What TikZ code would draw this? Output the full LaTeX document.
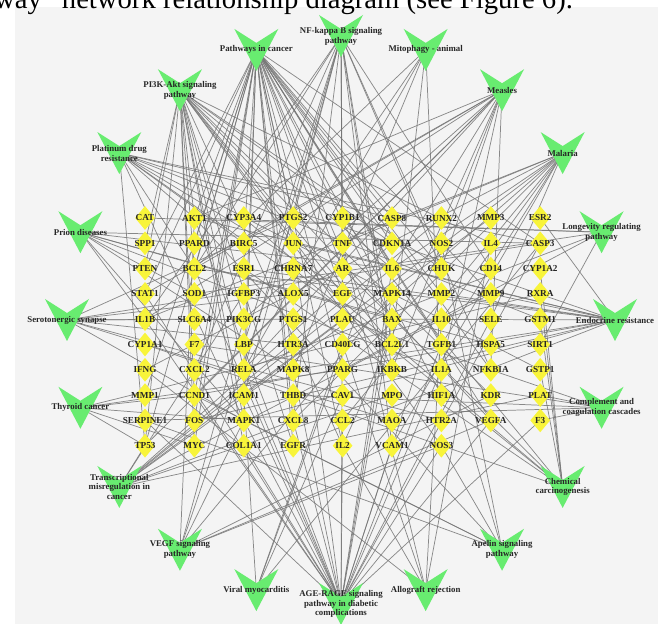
\documentclass[tikz,border=0pt]{standalone}
\usepackage{fontspec}
\setmainfont{Liberation Serif}
\usepackage{tikz}
\usetikzlibrary{positioning,calc}
\usetikzlibrary{shapes.geometric}
\definecolor{GeneYellow}{RGB}{248,244,58}
\definecolor{PathGreen}{RGB}{104,236,112}
\definecolor{EdgeGray}{RGB}{118,118,118}
\definecolor{PanelGray}{RGB}{244,244,244}
\pgfdeclarelayer{panel}
\pgfdeclarelayer{links}
\pgfsetlayers{panel,links,main}
\tikzset{
	gene/.style={diamond,fill=GeneYellow,draw=none,inner sep=0pt,minimum width=15pt,minimum height=18pt},
	genetext/.style={font=\fontsize{6.9}{7}\selectfont\bfseries,text=black!85,inner sep=0pt},
	pathway/.style={font=\fontsize{6.6}{7.4}\selectfont\bfseries,text=black!85,align=center,inner sep=0pt},
	link/.style={draw=EdgeGray,line width=0.55pt,opacity=0.85},
	vee/.pic={\fill[PathGreen] (-22,-21) -- (0,-7) -- (22,-21) -- (0,21) -- cycle;},
}

\begin{document}
\begin{tikzpicture}[x=0.75pt,y=-0.75pt]
	\useasboundingbox (0,0) rectangle (658,624);
	\clip (0,0) rectangle (658,624);
	\begin{pgfonlayer}{panel}
		\fill[PanelGray] (15,7) rectangle (658,624);
	\end{pgfonlayer}
	\node[anchor=base west,inner sep=0pt,font=\fontsize{21.5}{24}\selectfont] (caption) at (-6,9) {way” network relationship diagram (see Figure 6).};
	\foreach \col/\xx in {{CAT,SPP1,PTEN,STAT1,IL1B,CYP1A1,IFNG,MMP1,SERPINE1,TP53}/145,
		{AKT1,PPARD,BCL2,SOD1,SLC6A4,F7,CXCL2,CCND1,FOS,MYC}/194.4,
		{CYP3A4,BIRC5,ESR1,IGFBP3,PIK3CG,LBP,RELA,ICAM1,MAPK1,COL1A1}/243.8,
		{PTGS2,JUN,CHRNA7,ALOX5,PTGS1,HTR3A,MAPK8,THBD,CXCL8,EGFR}/293.2,
		{CYP1B1,TNF,AR,EGF,PLAU,CD40LG,PPARG,CAV1,CCL2,IL2}/342.6,
		{CASP8,CDKN1A,IL6,MAPK14,BAX,BCL2L1,IKBKB,MPO,MAOA,VCAM1}/392,
		{RUNX2,NOS2,CHUK,MMP2,IL10,TGFB1,IL1A,HIF1A,HTR2A,NOS3}/441.4,
		{MMP3,IL4,CD14,MMP9,SELE,HSPA5,NFKBIA,KDR,VEGFA}/490.8,
		{ESR2,CASP3,CYP1A2,RXRA,GSTM1,SIRT1,GSTP1,PLAT,F3}/540.2}
	\foreach \g [count=\r] in \col
	\node[gene,label={[genetext]center:\g}] (\g) at (\xx,{218+25.3*(\r-1)}) {};
	\foreach \nm/\ang/\txt in {nfkb/90/{NF-kappa B signaling\\pathway},mito/72/{Mitophagy - animal},
		pic/108/{Pathways in cancer},pi3k/126/{PI3K-Akt signaling\\pathway},meas/54/{Measles},
		plat/144/{Platinum drug\\resistance},mal/36/{Malaria},prion/162/{Prion diseases},
		longev/18/{Longevity regulating\\pathway},sero/180/{Serotonergic synapse},endo/0/{Endocrine resistance},
		thyr/198/{Thyroid cancer},compl/-18/{Complement and\\coagulation cascades},
		trans/216/{Transcriptional\\misregulation in\\cancer},chem/-36/{Chemical\\carcinogenesis},
		vegf/234/{VEGF signaling\\pathway},apel/-54/{Apelin signaling\\pathway},viral/252/{Viral myocarditis},
		age/270/{AGE-RAGE signaling\\pathway in diabetic\\complications},allo/-72/{Allograft rejection}}{
		\pic at ({341+274*cos(\ang)},{320-284*sin(\ang)}) {vee};
		\node[pathway] (\nm) at ({341+274*cos(\ang)},{320-284*sin(\ang)}) {\txt};
	}
	\begin{pgfonlayer}{links}
		\foreach \pw/\gl in {pic/{AKT1,AR,BAX,BCL2,BIRC5,CASP3,CASP8,CCND1,CDKN1A,CHUK,CXCL8,EGF,EGFR,FOS,HIF1A,IKBKB,IL2,IL6,JUN,MAPK1,MAPK8,MMP1,MMP2,MMP9,MYC,NFKBIA,PPARD,PPARG,PTEN,PTGS2,RELA,STAT1,TGFB1,TP53,VEGFA},
			nfkb/{BCL2,BCL2L1,CD14,CD40LG,CHUK,CXCL2,CXCL8,ICAM1,IKBKB,IL1B,LBP,NFKBIA,PLAU,PTGS2,RELA,TNF,VCAM1},
			mito/{BCL2,BCL2L1,JUN,MAPK8,HIF1A,RELA},
			pi3k/{AKT1,BCL2,BCL2L1,CCND1,CDKN1A,CHUK,COL1A1,EGF,EGFR,IKBKB,IL2,IL4,IL6,KDR,MYC,PIK3CG,PTEN,RELA,SPP1,TP53,VEGFA,MAPK1,NOS3},
			meas/{AKT1,BCL2,CCND1,CHUK,IKBKB,IL1A,IL1B,IL2,IL6,NFKBIA,RELA,STAT1,TP53,PIK3CG},
			plat/{AKT1,BAX,BCL2,BCL2L1,BIRC5,CASP3,CASP8,CDKN1A,GSTM1,GSTP1,MAPK1,TP53},
			mal/{CD40LG,ICAM1,IFNG,IL10,IL1B,IL6,SELE,TGFB1,TNF,VCAM1,CXCL8,CCL2},
			prion/{IL1A,IL1B,IL6,MAPK1,MAPK8,CASP3,BAX,SOD1,HSPA5},
			longev/{SIRT1,AKT1,CAT,SOD1,PPARG,RELA},
			sero/{SLC6A4,HTR3A,HTR2A,MAOA,ALOX5,PTGS1,PTGS2,CASP3,MAPK1},
			endo/{ESR1,ESR2,BCL2,BAX,CDKN1A,EGFR,MAPK1,MAPK8,JUN,FOS,AKT1,MMP2,MMP9,CCND1},
			thyr/{TP53,MYC,CCND1,PPARG,RXRA,MAPK1},
			compl/{F3,F7,PLAT,PLAU,SERPINE1,THBD},
			trans/{MMP3,MMP9,PLAU,PLAT,CDKN1A,IL6,CXCL8,TP53,MPO,IGFBP3,RUNX2},
			chem/{CYP1A1,CYP1A2,CYP1B1,CYP3A4,GSTM1,GSTP1,AR,ESR1,RXRA,CHRNA7},
			vegf/{AKT1,PTGS2,MAPK1,MAPK14,KDR,VEGFA,NOS3,PIK3CG},
			apel/{NOS2,NOS3,SERPINE1,CCND1,MAPK1,TGFB1,AKT1},
			viral/{CASP3,CASP8,CD40LG,ICAM1,CAV1},
			age/{AKT1,BCL2,BAX,CASP3,CCL2,CCND1,COL1A1,CXCL8,F3,ICAM1,IL1A,IL1B,IL6,JUN,MAPK1,MAPK8,MAPK14,MMP2,NOS3,RELA,SELE,SERPINE1,STAT1,TGFB1,TNF,VCAM1,VEGFA},
			allo/{IFNG,IL2,IL4,IL10,TNF,CD40LG}}
		\foreach \g in \gl
		\draw[link] (\pw.center) -- (\g.center);
	\end{pgfonlayer}
\end{tikzpicture}
\end{document}
